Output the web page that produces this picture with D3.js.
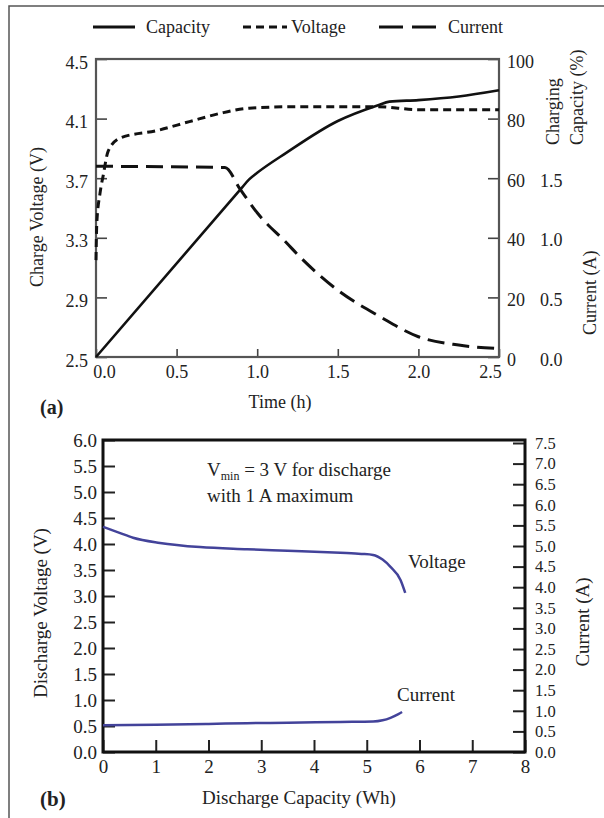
<!DOCTYPE html>
<html>
<head>
<meta charset="utf-8">
<script src="https://cdn.jsdelivr.net/npm/d3@7"></script>
<style>
  html, body { margin: 0; padding: 0; background: #fff; }
  svg text { font-family: "Liberation Serif", "DejaVu Serif", serif; fill: #222; }
</style>
</head>
<body>
<div id="chart"></div>
<script>
// ---- panel (a): charging ----
const chargeTimeTicks = [0, 0.5, 1.0, 1.5, 2.0, 2.5];
const chargeVoltTicks = [2.5, 2.9, 3.3, 3.7, 4.1, 4.5];
const capacityPctTicks = [0, 20, 40, 60, 80, 100];
const chargeCurrentTicks = [0, 0.5, 1.0, 1.5];

const capTime = [0, 0.9, 0.95, 1.0, 1.18, 1.5, 1.75, 1.82, 2.0, 2.25, 2.5];
const capPct = [0, 56.5, 59.6, 61.8, 68.5, 79.2, 84.5, 85.7, 86.2, 87.4, 89.5];

const voltTime = [0, 0.005, 0.025, 0.045, 0.075, 0.15, 0.38, 0.58, 0.79, 0.95, 1.27, 1.75, 2.0, 2.5];
const chargeVolt = [3.15, 3.4, 3.6, 3.72, 3.88, 3.97, 4.02, 4.08, 4.14, 4.17, 4.18, 4.18, 4.16, 4.16];

const currTime = [0, 0.8, 0.893, 1.0, 1.18, 1.265, 1.5, 1.76, 2.0, 2.25, 2.5];
const chargeCurrent = [1.6, 1.59, 1.41, 1.21, 0.96, 0.84, 0.56, 0.34, 0.17, 0.1, 0.07];

// ---- panel (b): discharging ----
const whTicks = [0, 1, 2, 3, 4, 5, 6, 7, 8];
const dischargeVoltTicks = d3.range(0, 6.01, 0.5);
const dischargeCurrTicks = d3.range(0, 7.51, 0.5);

const dvWh = [0, 0.3, 0.57, 1.08, 1.84, 2.73, 3.5, 4.5, 4.9, 5.12, 5.3, 5.45, 5.64, 5.73];
const dischargeVolt = [4.33, 4.22, 4.12, 4.02, 3.94, 3.9, 3.87, 3.83, 3.81, 3.79, 3.7, 3.56, 3.31, 3.06];

const diWh = [0, 1, 2, 2.73, 3.5, 4.5, 5.12, 5.3, 5.45, 5.6, 5.67];
const dischargeCurrent = [0.65, 0.66, 0.68, 0.7, 0.71, 0.73, 0.74, 0.77, 0.83, 0.92, 0.97];

const W = 604, H = 818;
const svg = d3.select("#chart").append("svg").attr("width", W).attr("height", H);

// outer figure border (top + left)
svg.append("path")
  .attr("d", "M9,818 L9,6 L604,6")
  .attr("fill", "none").attr("stroke", "#555").attr("stroke-width", 1.5);

const zip = (xs, ys) => xs.map((x, i) => [x, ys[i]]);

// strip d3's default axis font so the serif css applies
function plain(g) {
  g.attr("font-size", null).attr("font-family", null);
  g.select(".domain").remove();
}

// =============== (a) ===============
const xa = d3.scaleLinear().domain([0, 2.5]).range([96, 499]);
const yV = d3.scaleLinear().domain([2.5, 4.5]).range([357, 59]);
const yCap = d3.scaleLinear().domain([0, 100]).range([357, 59]);
const yI = d3.scaleLinear().domain([0, 2.5]).range([357, 59]);

const ga = svg.append("g").attr("font-size", 18);

const axA = ga.append("g").attr("transform", "translate(0,357)")
  .call(d3.axisBottom(xa).tickValues(chargeTimeTicks).tickFormat(d3.format(".1f"))
    .tickSizeInner(-8).tickSizeOuter(0).tickPadding(8))
  .call(plain);
axA.selectAll("text").filter(d => d === 0).attr("dx", 8);
axA.selectAll("text").filter(d => d === 2.5).attr("dx", -9);

ga.append("g").attr("transform", "translate(96,0)")
  .call(d3.axisLeft(yV).tickValues(chargeVoltTicks).tickFormat(d3.format(".1f"))
    .tickSizeInner(-11).tickSizeOuter(0).tickPadding(8))
  .call(plain)
  .selectAll("text").attr("dy", "0.5em");

ga.append("g").attr("transform", "translate(499,0)")
  .call(d3.axisRight(yCap).tickValues(capacityPctTicks)
    .tickSizeInner(-11).tickSizeOuter(0).tickPadding(8))
  .call(plain)
  .selectAll("text").attr("dy", "0.45em");

ga.append("g").attr("transform", "translate(499,0)")
  .call(d3.axisRight(yI).tickValues(chargeCurrentTicks).tickFormat(d3.format(".1f"))
    .tickSize(0).tickPadding(41))
  .call(plain)
  .selectAll("text").attr("dy", "0.45em");

ga.selectAll(".tick line").attr("stroke", "#444").attr("stroke-width", 1.6);

ga.append("rect")
  .attr("x", 96).attr("y", 59).attr("width", 403).attr("height", 298)
  .attr("fill", "none").attr("stroke", "#555").attr("stroke-width", 2.2);

const lineA = (yScale) => d3.line()
  .x(d => xa(d[0])).y(d => yScale(d[1])).curve(d3.curveMonotoneX);

ga.append("path").datum(zip(capTime, capPct))
  .attr("d", lineA(yCap)).attr("fill", "none")
  .attr("stroke", "#111").attr("stroke-width", 2.6);

ga.append("path").datum(zip(voltTime, chargeVolt))
  .attr("d", lineA(yV)).attr("fill", "none")
  .attr("stroke", "#111").attr("stroke-width", 3).attr("stroke-dasharray", "8,5");

ga.append("path").datum(zip(currTime, chargeCurrent))
  .attr("d", lineA(yI)).attr("fill", "none")
  .attr("stroke", "#111").attr("stroke-width", 3).attr("stroke-dasharray", "17,8");

// legend
const legend = [
  { label: "Capacity", x1: 93, x2: 135, dash: null, tx: 146 },
  { label: "Voltage", x1: 243, x2: 287, dash: "8,5", tx: 291 },
  { label: "Current", x1: 379, x2: 436, dash: "24,9", tx: 448 }
];
const lg = svg.append("g").attr("font-size", 18);
legend.forEach(l => {
  lg.append("line").attr("x1", l.x1).attr("x2", l.x2).attr("y1", 27).attr("y2", 27)
    .attr("stroke", "#111").attr("stroke-width", 3).attr("stroke-dasharray", l.dash);
  lg.append("text").attr("x", l.tx).attr("y", 27).attr("dy", "0.35em").text(l.label);
});

// axis titles (a)
ga.append("text").attr("transform", "translate(43,217) rotate(-90)")
  .attr("text-anchor", "middle").text("Charge Voltage (V)");
ga.append("text").attr("transform", "translate(559,145) rotate(-90)")
  .text("Charging");
ga.append("text").attr("transform", "translate(583,145) rotate(-90)")
  .text("Capacity (%)");
ga.append("text").attr("transform", "translate(596,335) rotate(-90)")
  .text("Current (A)");
ga.append("text").attr("x", 280).attr("y", 408).attr("text-anchor", "middle").text("Time (h)");
ga.append("text").attr("x", 40).attr("y", 414).attr("font-weight", "bold")
  .attr("font-size", 20).text("(a)");

// =============== (b) ===============
const xb = d3.scaleLinear().domain([0, 8]).range([103, 525]);
const yDV = d3.scaleLinear().domain([0, 6]).range([752, 440]);
const yDI = d3.scaleLinear().domain([0, 7.5]).range([752, 443]);

const gb = svg.append("g").attr("font-size", 19);

gb.append("g").attr("transform", "translate(0,752)")
  .call(d3.axisBottom(xb).tickValues(whTicks).tickFormat(d3.format("d"))
    .tickSizeInner(-12).tickSizeOuter(0).tickPadding(8))
  .call(plain);

gb.append("g").attr("transform", "translate(103,0)")
  .call(d3.axisLeft(yDV).tickValues(dischargeVoltTicks).tickFormat(d3.format(".1f"))
    .tickSizeInner(-12).tickSizeOuter(0).tickPadding(6))
  .call(plain);

gb.append("g").attr("transform", "translate(525,0)")
  .call(d3.axisRight(yDI).tickValues(dischargeCurrTicks).tickFormat(d3.format(".1f"))
    .tickSizeInner(-12).tickSizeOuter(0).tickPadding(10))
  .call(plain)
  .attr("font-size", 16.5);

gb.selectAll(".tick line").attr("stroke", "#222").attr("stroke-width", 2);

gb.append("rect")
  .attr("x", 103).attr("y", 440).attr("width", 422).attr("height", 312)
  .attr("fill", "none").attr("stroke", "#111").attr("stroke-width", 3);

const lineB = (yScale) => d3.line()
  .x(d => xb(d[0])).y(d => yScale(d[1])).curve(d3.curveMonotoneX);

gb.append("path").datum(zip(dvWh, dischargeVolt))
  .attr("d", lineB(yDV)).attr("fill", "none")
  .attr("stroke", "#43439a").attr("stroke-width", 2.5);

gb.append("path").datum(zip(diWh, dischargeCurrent))
  .attr("d", lineB(yDI)).attr("fill", "none")
  .attr("stroke", "#43439a").attr("stroke-width", 2.5);

// annotations (b)
const note = gb.append("text").attr("x", 207).attr("y", 476);
note.append("tspan").text("V");
note.append("tspan").attr("font-size", 12).attr("dy", 4).text("min");
note.append("tspan").attr("dy", -4).text(" = 3 V for discharge");
gb.append("text").attr("x", 207).attr("y", 502).text("with 1 A maximum");
gb.append("text").attr("x", 408).attr("y", 568).text("Voltage");
gb.append("text").attr("x", 397).attr("y", 701).text("Current");

gb.append("text").attr("transform", "translate(47,613) rotate(-90)")
  .attr("text-anchor", "middle").text("Discharge Voltage (V)");
gb.append("text").attr("transform", "translate(589,622) rotate(-90)")
  .attr("text-anchor", "middle").text("Current (A)");
gb.append("text").attr("x", 299).attr("y", 804).attr("text-anchor", "middle")
  .text("Discharge Capacity (Wh)");
gb.append("text").attr("x", 40).attr("y", 806).attr("font-weight", "bold")
  .attr("font-size", 21).text("(b)");
</script>
</body>
</html>
